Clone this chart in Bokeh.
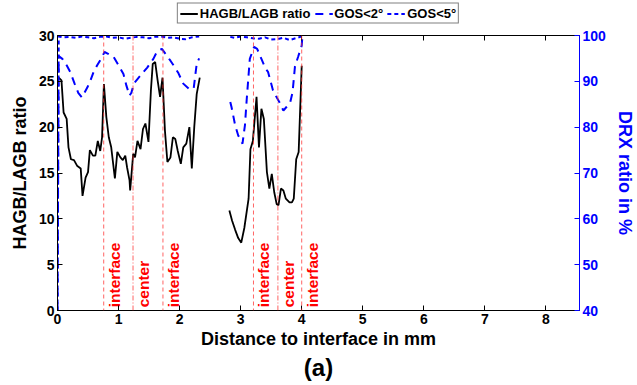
import math
from bokeh.plotting import figure
from bokeh.layouts import column
from bokeh.models import (Range1d, LinearAxis, FixedTicker, Legend, LegendItem,
                          Title, Span, ColumnDataSource, CustomJSTickFormatter)
from bokeh.core.properties import value
from bokeh.embed import file_html
from bokeh.resources import INLINE

nan = float("nan")

# HAGB/LAGB ratio (left axis)
hagb_x = [0.02, 0.065, 0.10, 0.15, 0.18, 0.22, 0.27, 0.32, 0.38, 0.41, 0.46, 0.50, 0.53,
          0.58, 0.62, 0.66, 0.70, 0.73, 0.76, 0.80, 0.84, 0.88, 0.94, 0.98, 1.03, 1.07,
          1.11, 1.14, 1.18, 1.19, 1.24, 1.27, 1.31, 1.36, 1.40, 1.44, 1.49, 1.53, 1.56,
          1.60, 1.64, 1.68, 1.72, 1.76, 1.80, 1.85, 1.89, 1.93, 1.97, 2.02, 2.06, 2.11,
          2.16, 2.20, 2.24, 2.28, 2.33, nan,
          2.815, 2.86, 2.91, 2.96, 3.01, 3.06, 3.13, 3.16, 3.20, 3.26, 3.30, 3.34, 3.38,
          3.43, 3.47, 3.51, 3.55, 3.59, 3.62, 3.66, 3.70, 3.74, 3.80, 3.84, 3.87, 3.91,
          3.95, 4.00]
hagb_y = [25.4, 25.1, 21.6, 20.9, 17.8, 16.5, 16.4, 15.8, 15.5, 12.5, 14.5, 15.1, 17.5,
          16.9, 16.9, 18.5, 17.4, 18.9, 24.7, 21.1, 18.9, 17.8, 14.4, 17.3, 16.7, 16.4,
          16.9, 15.6, 14.2, 13.1, 17.1, 16.7, 18.5, 17.6, 19.8, 20.4, 18.4, 24.0, 26.9,
          27.1, 25.1, 23.3, 25.4, 19.6, 16.2, 16.7, 18.9, 18.7, 17.4, 16.0, 17.8, 18.2,
          20.0, 15.5, 20.0, 23.6, 25.4, nan,
          10.9, 9.8, 8.8, 7.9, 7.4, 9.0, 12.2, 17.6, 18.5, 23.3, 17.8, 22.0, 20.9,
          15.1, 13.3, 14.9, 12.9, 11.6, 11.5, 13.3, 13.1, 12.2, 11.8, 11.8, 12.2, 16.5,
          17.3, 26.7]

# GOS<2° DRX ratio in % (right axis)
gos2_x = [0.0, 0.02, 0.08, 0.15, 0.21, 0.28, 0.34, 0.40, 0.49, 0.54, 0.59, 0.65, 0.73,
          0.77, 0.83, 0.92, 1.00, 1.08, 1.13, 1.18, 1.21, 1.25, 1.31, 1.38, 1.47, 1.57,
          1.63, 1.71, 1.79, 1.85, 1.90, 1.98, 2.06, 2.15, 2.23, 2.28, 2.32, nan,
          2.83, 2.85, 2.91, 2.96, 3.03, 3.07, 3.10, 3.15, 3.22, 3.27, 3.34, 3.40, 3.45,
          3.53, 3.59, 3.64, 3.70, 3.75, 3.81, 3.85, 3.89, 3.94, 4.00, 4.01]
gos2_y = [40.0, 95.5, 94.9, 93.5, 92.0, 89.5, 87.5, 86.5, 88.7, 90.2, 92.0, 93.5, 95.3,
          96.4, 96.0, 95.3, 93.5, 91.6, 89.0, 86.9, 87.5, 89.5, 90.5, 91.6, 93.0, 94.9,
          96.5, 97.1, 95.6, 94.5, 93.5, 91.8, 89.5, 88.4, 88.4, 93.8, 95.0, nan,
          85.5, 84.4, 80.4, 78.2, 76.4, 80.4, 86.2, 94.9, 97.5, 97.1, 94.9, 93.0, 92.0,
          88.0, 86.5, 85.3, 83.6, 84.4, 85.3, 87.6, 93.3, 95.3, 97.8, 99.6]

# GOS<5° DRX ratio in % (right axis)
gos5_x = [0.0, 0.02, 0.1, 0.2, 0.3, 0.4, 0.5, 0.6, 0.7, 0.8, 0.9, 1.0, 1.1, 1.2, 1.3,
          1.4, 1.5, 1.6, 1.7, 1.8, 1.9, 2.0, 2.1, 2.2, 2.32, nan,
          2.83, 2.9, 3.0, 3.1, 3.2, 3.3, 3.4, 3.5, 3.6, 3.7, 3.8, 3.9, 4.0]
gos5_y = [40.0, 99.8, 99.6, 99.7, 99.5, 99.8, 99.6, 99.4, 99.7, 99.8, 99.5, 99.6, 99.3,
          99.5, 99.7, 99.6, 99.4, 99.7, 99.8, 99.5, 99.6, 99.3, 99.2, 99.6, 99.8, nan,
          99.7, 99.5, 99.8, 99.6, 99.4, 99.3, 99.6, 99.1, 99.2, 99.5, 99.0, 99.4, 99.8]

# Marker lines
mark_x = [0.757, 1.237, 1.727, 3.21, 3.61, 4.00]
mark_text = ["interface", "center", "interface", "interface", "center", "interface"]
mark_dash = ["4 3", "5 2 1 2", "4 3", "4 3", "5 2 1 2", "4 3"]

x_ticks = [0, 1, 2, 3, 4, 5, 6, 7, 8]
left_ticks = [0, 5, 10, 15, 20, 25, 30]
right_ticks = [40, 50, 60, 70, 80, 90, 100]

series_labels = ["HAGB/LAGB ratio", "GOS<2°", "GOS<5°"]

FONT = "Liberation Sans"
BLUE = "#0000ff"
LEG_H = 26

p = figure(width=637, height=385 - LEG_H, x_range=Range1d(0, 8.55), y_range=Range1d(0, 30),
           output_backend="svg", toolbar_location=None,
           min_border_left=57, min_border_right=57, min_border_top=35 - LEG_H,
           min_border_bottom=75)
p.extra_y_ranges = {"drx": Range1d(40, 100)}
p.xgrid.visible = False
p.ygrid.visible = False
p.outline_line_color = "black"
p.outline_line_width = 1

def style_axis(ax, color="black"):
    ax.major_tick_in = 5
    ax.major_tick_out = 0
    ax.minor_tick_line_color = None
    ax.major_label_text_font = FONT
    ax.major_label_text_font_style = "bold"
    ax.major_label_text_font_size = "14px"
    ax.major_label_text_color = color
    ax.axis_label_text_font = FONT
    ax.axis_label_text_font_style = "bold"
    ax.axis_label_text_font_size = "18px"
    ax.axis_label_text_color = color
    ax.axis_line_color = color
    ax.major_tick_line_color = color

xa = p.xaxis[0]
xa.ticker = FixedTicker(ticks=x_ticks)
xa.axis_label = "Distance to interface in mm"
style_axis(xa)
xa.major_label_standoff = 3
xa.axis_label_standoff = 2

ya = p.yaxis[0]
ya.ticker = FixedTicker(ticks=left_ticks)
ya.axis_label = "HAGB/LAGB ratio"
style_axis(ya)
ya.major_label_standoff = 3
ya.axis_label_standoff = 6

ra = LinearAxis(y_range_name="drx", ticker=FixedTicker(ticks=right_ticks),
                axis_label="DRX ratio in %")
style_axis(ra, BLUE)
ra.major_label_standoff = 3
ra.axis_label_standoff = 6
p.add_layout(ra, "right")

ta = LinearAxis(ticker=FixedTicker(ticks=x_ticks),
                formatter=CustomJSTickFormatter(code="return ''"))
style_axis(ta)
ta.major_label_standoff = 0
p.add_layout(ta, "above")

# vertical marker lines
for xv, dash in zip(mark_x, mark_dash):
    p.add_layout(Span(location=xv, dimension="height", line_color="#ff3030",
                      line_alpha=0.75, line_width=1, line_dash=dash))

src = ColumnDataSource(dict(x=mark_x, y=[0.35] * len(mark_x), t=mark_text))
p.text(x="x", y="y", text="t", source=src, angle=math.pi / 2, text_align="left",
       text_baseline="top", x_offset=2, text_color="red",
       text_font=value(FONT), text_font_style="bold", text_font_size="15.5px")

p.line(hagb_x, hagb_y, line_color="black", line_width=1.8)
p.line(gos2_x, gos2_y, line_color=BLUE, line_width=2, line_dash="8 6",
       y_range_name="drx")
p.line(gos5_x, gos5_y, line_color=BLUE, line_width=2, line_dash="4 3",
       y_range_name="drx")

p.add_layout(Title(text="(a)", align="center", text_font=FONT, text_font_style="bold",
                   text_font_size="24px", text_color="black", standoff=0), "below")

# legend strip above the plot (same series; all values lie outside this strip's ranges)
lf = figure(width=637, height=LEG_H, x_range=Range1d(-10, -9), y_range=Range1d(-10, -9),
            output_backend="svg", toolbar_location=None,
            min_border=0, outline_line_color=None)
lf.axis.visible = False
lf.grid.visible = False
l1 = lf.line(hagb_x, hagb_y, line_color="black", line_width=1.8)
l2 = lf.line(gos2_x, gos2_y, line_color=BLUE, line_width=2, line_dash="8 6")
l3 = lf.line(gos5_x, gos5_y, line_color=BLUE, line_width=2, line_dash="4 3")
legend = Legend(items=[LegendItem(label=series_labels[0], renderers=[l1]),
                       LegendItem(label=series_labels[1], renderers=[l2]),
                       LegendItem(label=series_labels[2], renderers=[l3])],
                orientation="horizontal", location="center",
                label_text_font=FONT, label_text_font_style="bold",
                label_text_font_size="13px", label_text_color="black",
                glyph_width=18, glyph_height=14,
                label_standoff=2, spacing=4, padding=2, margin=0,
                border_line_color="black", border_line_width=1,
                label_height=14, background_fill_alpha=1)
lf.add_layout(legend)

open("out.html", "w").write(file_html(column(lf, p, spacing=0), INLINE))
